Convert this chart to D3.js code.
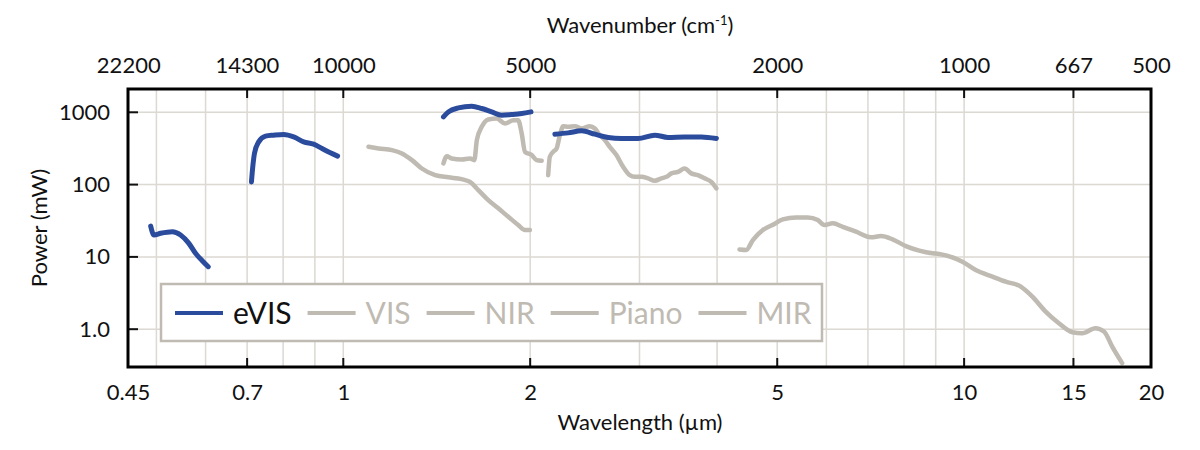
<!DOCTYPE html>
<html>
<head>
<meta charset="utf-8">
<script src="https://cdn.jsdelivr.net/npm/d3@7"></script>
<style>
  html, body { margin: 0; padding: 0; background: #fff; }
  svg { display: block; font-family: Lato, "Noto Sans", sans-serif; }
</style>
</head>
<body>
<svg id="chart" width="1200" height="450"></svg>
<script>
// ---------- DATA (wavelength µm, power mW) ----------
const eVIS_a = [[0.4895,26.7],[0.4955,20.1],[0.5078,21.2],[0.5305,22.3],[0.5469,20.1],[0.5640,15.4],[0.5781,11.2],[0.5926,8.86],[0.6060,7.32]];
const eVIS_b = [[0.7113,109],[0.7148,176],[0.7193,270],[0.7307,390],[0.7494,468],[0.7726,483],[0.8017,494],[0.8320,457],[0.8634,390],[0.8960,362],[0.9242,316],[0.9530,275],[0.9791,248]];
const eVIS_c = [[1.450,864],[1.477,1013],[1.532,1150],[1.610,1214],[1.671,1129],[1.734,1013],[1.799,912],[1.867,932],[1.938,962],[2.006,1013]];
const eVIS_d = [[2.192,498],[2.302,519],[2.420,554],[2.542,498],[2.671,449],[2.806,435],[2.984,435],[3.175,483],[3.334,449],[3.546,457],[3.773,457],[3.990,435]];
const VIS = [[1.098,333],[1.140,316],[1.198,300],[1.243,270],[1.290,218],[1.338,167],[1.406,135],[1.477,126],[1.551,119],[1.600,109],[1.650,84],[1.712,61],[1.777,47],[1.844,35.9],[1.913,27.6],[1.962,23.5],[1.998,23.5]];
const NIR = [[1.450,196],[1.468,247],[1.495,230],[1.551,223],[1.600,230],[1.626,218],[1.641,412],[1.671,629],[1.712,796],[1.766,821],[1.822,700],[1.879,778],[1.913,778],[1.938,510],[1.962,284],[2.011,256],[2.049,218],[2.087,213]];
const Piano = [[2.138,135],[2.151,242],[2.178,284],[2.206,316],[2.233,483],[2.261,643],[2.302,629],[2.360,643],[2.420,597],[2.495,643],[2.542,597],[2.589,483],[2.638,412],[2.687,333],[2.754,256],[2.823,176],[2.893,135],[2.948,128],[3.021,128],[3.096,122],[3.175,113],[3.254,122],[3.315,128],[3.377,143],[3.460,150],[3.546,167],[3.636,143],[3.726,135],[3.819,122],[3.915,109],[3.990,88.6]];
const MIR = [[4.347,12.7],[4.457,12.5],[4.568,17.1],[4.740,23.5],[4.948,28.5],[5.104,33.1],[5.363,35.2],[5.600,35.2],[5.812,32.3],[5.957,27.6],[6.145,29.1],[6.376,26.1],[6.697,22.3],[7.079,18.7],[7.346,19.4],[7.668,17.5],[8.058,14.1],[8.467,12.2],[8.892,11.2],[9.117,11.0],[9.938,8.59],[10.44,6.59],[11.11,5.33],[11.67,4.54],[12.34,3.88],[12.88,2.82],[13.53,1.75],[14.21,1.21],[14.94,0.909],[15.50,0.881],[16.28,1.03],[16.80,0.927],[17.32,0.575],[17.97,0.339]];

const legendNames = ["eVIS","VIS","NIR","Piano","MIR"];
const bottomTickLabels = [0.45,0.7,1,2,5,10,15,20];
const majorTicks = [0.7,1,2,5,10,15];
const gridX = [0.5,0.6,0.7,0.8,0.9,1,2,3,4,5,6,7,8,9,10,15];
const topTickLabels = [22200,14300,10000,5000,2000,1000,667,500];
const yTicks = [1,10,100,1000];

// ---------- STYLE ----------
const BLUE = "#2b4c9d";
const GRAY = "#bfbab2";
const GRID = "#dcd8d2";
const FS = 22;

const svg = d3.select("#chart");
const L = 128, R = 1151, T = 89, B = 367;

const x = d3.scaleLog().domain([0.45, 20]).range([L, R]);
const xw = d3.scaleLog().domain([1e4/0.45, 1e4/20]).range([L, R]);
const y = d3.scaleLog().domain([0.3, 2100]).range([B, T]);

// grid
const g = svg.append("g");
g.selectAll("line.gx").data(gridX).join("line")
  .attr("x1", d => x(d)).attr("x2", d => x(d)).attr("y1", T).attr("y2", B)
  .attr("stroke", GRID).attr("stroke-width", 1.5);
g.selectAll("line.gy").data(yTicks).join("line")
  .attr("x1", L).attr("x2", R).attr("y1", d => y(d)).attr("y2", d => y(d))
  .attr("stroke", GRID).attr("stroke-width", 1.5);

// curves
const line = d3.line().curve(d3.curveMonotoneX).x(d => x(d[0])).y(d => y(d[1]));
const curves = svg.append("g").attr("fill", "none").attr("stroke-linejoin", "round").attr("stroke-linecap", "round");
[VIS, NIR, Piano, MIR].forEach(s => curves.append("path").attr("d", line(s)).attr("stroke", GRAY).attr("stroke-width", 4.5));
[eVIS_a, eVIS_b, eVIS_c, eVIS_d].forEach(s => curves.append("path").attr("d", line(s)).attr("stroke", BLUE).attr("stroke-width", 5));

// axes
const fmtB = d => (d < 1 ? String(d) : d3.format("d")(d));
const axB = svg.append("g").attr("transform", `translate(0,${B})`)
  .call(d3.axisBottom(x).tickValues(bottomTickLabels).tickFormat(fmtB).tickSize(0).tickPadding(17));
const axT = svg.append("g").attr("transform", `translate(0,${T})`)
  .call(d3.axisTop(xw).tickValues(topTickLabels).tickFormat(d3.format("d")).tickSize(0).tickPadding(16));
const axL = svg.append("g").attr("transform", `translate(${L},0)`)
  .call(d3.axisLeft(y).tickValues(yTicks).tickFormat(d => d === 1 ? "1.0" : d3.format("d")(d)).tickSize(0).tickPadding(18));
[axB, axT, axL].forEach(a => {
  a.select(".domain").remove();
  a.selectAll("text").attr("font-size", FS).attr("font-family", "Lato, sans-serif").attr("fill", "#111");
});

// inward major ticks
const tk = svg.append("g").attr("stroke", "#111").attr("stroke-width", 2);
tk.selectAll("line.b").data(majorTicks).join("line")
  .attr("x1", d => x(d)).attr("x2", d => x(d)).attr("y1", B).attr("y2", B - 9);
tk.selectAll("line.t").data(majorTicks).join("line")
  .attr("x1", d => x(d)).attr("x2", d => x(d)).attr("y1", T).attr("y2", T + 9);
tk.selectAll("line.l").data(yTicks).join("line")
  .attr("x1", L).attr("x2", L + 10).attr("y1", d => y(d)).attr("y2", d => y(d));

// frame
svg.append("rect").attr("x", L).attr("y", T).attr("width", R - L).attr("height", B - T)
  .attr("fill", "none").attr("stroke", "#000").attr("stroke-width", 3);

// axis titles
svg.append("text").attr("x", 640).attr("y", 430).attr("text-anchor", "middle")
  .attr("font-size", FS).attr("fill", "#111").text("Wavelength (µm)");
const tt = svg.append("text").attr("x", 640).attr("y", 33).attr("text-anchor", "middle")
  .attr("font-size", FS).attr("fill", "#111");
tt.append("tspan").text("Wavenumber (cm");
tt.append("tspan").attr("font-size", 13).attr("dy", -8).text("-1");
tt.append("tspan").attr("dy", 8).text(")");
svg.append("text").attr("transform", "translate(47,228) rotate(-90)").attr("text-anchor", "middle")
  .attr("font-size", FS).attr("fill", "#111").text("Power (mW)");

// legend
const lg = svg.append("g");
lg.append("rect").attr("x", 161).attr("y", 284).attr("width", 661).attr("height", 57)
  .attr("fill", "#fff").attr("stroke", GRAY).attr("stroke-width", 2.5);
let cx = 175;
const ly = 313;
legendNames.forEach((n, i) => {
  const col = i === 0 ? BLUE : GRAY;
  lg.append("line").attr("x1", cx).attr("x2", cx + 48).attr("y1", ly).attr("y2", ly)
    .attr("stroke", col).attr("stroke-width", 4);
  const t = lg.append("text").attr("x", cx + 58).attr("y", ly).attr("dy", "0.35em")
    .attr("font-size", 30).attr("fill", i === 0 ? "#111" : GRAY).text(n);
  cx = cx + 58 + t.node().getComputedTextLength() + 16;
});
</script>
</body>
</html>
